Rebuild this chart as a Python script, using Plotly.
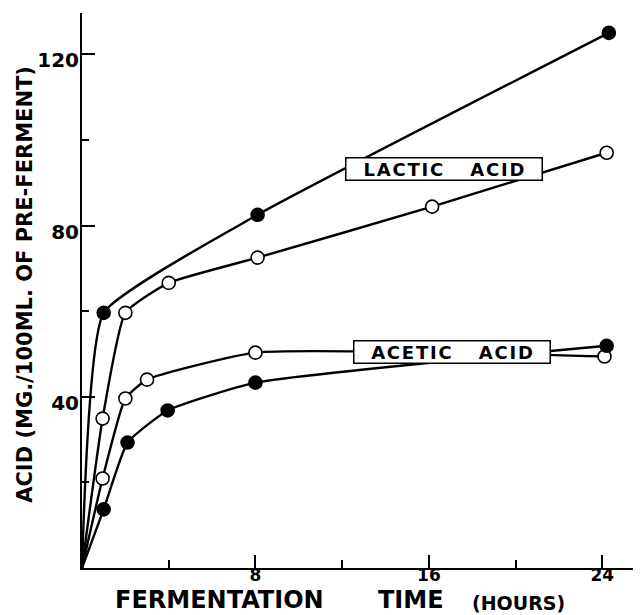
import plotly.graph_objects as go

# ---- data (hours, mg/100 ml of pre-ferment) ----
lactic_filled_t = [0, 1.0, 8.1, 24.3]
lactic_filled_v = [0, 59.6, 82.5, 125.0]

lactic_open_t = [0, 0.95, 2.0, 4.0, 8.1, 16.15, 24.2]
lactic_open_v = [0, 34.9, 59.6, 66.6, 72.5, 84.4, 97.0]

acetic_open_t = [0, 0.95, 2.0, 3.0, 8.0, 24.1]
acetic_open_v = [0, 20.9, 39.6, 44.0, 50.3, 49.4]

acetic_filled_t = [0, 1.0, 2.1, 3.95, 8.0, 24.2]
acetic_filled_v = [0, 13.7, 29.3, 36.8, 43.3, 51.9]

x_ticks = [8, 16, 24]
x_tick_labels = ["8", "16", "24"]
y_ticks = [40, 80, 120]
y_tick_labels = ["40", "80", "120"]

FONT = "DejaVu Sans"
OFF = 8                      # page body margin in the browser
SW, SH = 641, 615            # screen size
W, H = SW - OFF, SH - OFF    # figure size
# plot area in screen pixels
LEFT, RIGHT, TOP, BOTTOM = 81.5, 640, 13, 568.5
ML = LEFT - OFF
MR = SW - RIGHT
MT = TOP - OFF
MB = SH - BOTTOM
PX_PER_H = 21.7
PX_PER_V = 4.285
x_max = (RIGHT - LEFT) / PX_PER_H
y_max = (BOTTOM - TOP) / PX_PER_V

fig = go.Figure()

series = [
    (lactic_filled_t, lactic_filled_v, "black", 0.4),
    (lactic_open_t, lactic_open_v, "white", 0.45),
    (acetic_open_t, acetic_open_v, "white", 0.45),
    (acetic_filled_t, acetic_filled_v, "black", 0.45),
]

for t, v, fill, sm in series:
    fig.add_trace(go.Scatter(
        x=t, y=v, mode="lines",
        line=dict(color="black", width=2.4, shape="spline", smoothing=sm),
        hoverinfo="skip", showlegend=False, cliponaxis=False,
    ))
for t, v, fill, sm in series:
    fig.add_trace(go.Scatter(
        x=t[1:], y=v[1:], mode="markers",
        marker=dict(size=13, color=fill, line=dict(color="black", width=1.6)),
        showlegend=False, cliponaxis=False,
    ))

def spaced(word):
    return "\u200a".join(word)

def px(xs):
    return (xs - LEFT) / (RIGHT - LEFT)

def py(ys):
    return (BOTTOM - ys) / (BOTTOM - TOP)

box_style = dict(
    xref="paper", yref="paper", showarrow=False,
    xanchor="center", yanchor="middle",
    font=dict(family=FONT, size=18, color="black", weight="bold"),
    bgcolor="white", bordercolor="black", borderwidth=1.5, borderpad=1,
    width=193, height=19,
)
fig.add_annotation(x=px(443.5), y=py(169.5),
                   text=spaced("LACTIC") + "\u2003\u2002" + spaced("ACID"), **box_style)
fig.add_annotation(x=px(452), y=py(352),
                   text=spaced("ACETIC") + "\u2003\u2002" + spaced("ACID"), **box_style)

# axis titles
fig.add_annotation(
    xref="paper", yref="paper", x=px(24.5), y=py(285), textangle=-90,
    showarrow=False, xanchor="center", yanchor="middle",
    text="ACID (MG./100ML. OF PRE-FERMENT)",
    font=dict(family=FONT, size=21, color="black", weight="bold"),
)
title_font = dict(family=FONT, size=24, color="black", weight="bold")
fig.add_annotation(xref="paper", yref="paper", x=px(113), y=py(601),
                   showarrow=False, xanchor="left", yanchor="middle",
                   text="FERMENTATION", font=title_font)
fig.add_annotation(xref="paper", yref="paper", x=px(376), y=py(601),
                   showarrow=False, xanchor="left", yanchor="middle",
                   text="TIME", font=title_font)
fig.add_annotation(xref="paper", yref="paper", x=px(470), y=py(604),
                   showarrow=False, xanchor="left", yanchor="middle",
                   text="(HOURS)",
                   font=dict(family=FONT, size=19, color="black", weight="bold"))

fig.update_layout(
    width=W, height=H,
    margin=dict(l=ML, r=MR, t=MT, b=MB, pad=0, autoexpand=False),
    paper_bgcolor="white", plot_bgcolor="white",
    showlegend=False,
    xaxis=dict(
        range=[0, x_max], showgrid=False, zeroline=False,
        showline=True, linecolor="black", linewidth=2,
        tickmode="array", tickvals=x_ticks, ticktext=x_tick_labels,
        ticks="inside", ticklen=13, tickwidth=1.5, tickcolor="black",
        ticklabelstandoff=-9,
        minor=dict(dtick=4, tick0=0, ticks="inside", ticklen=8, tickwidth=1.5, tickcolor="black"),
        tickfont=dict(family=FONT, size=17, color="black", weight="bold"),
        fixedrange=True,
    ),
    yaxis=dict(
        range=[0, y_max], showgrid=False, zeroline=False,
        showline=True, linecolor="black", linewidth=2,
        tickmode="array", tickvals=y_ticks, ticktext=y_tick_labels,
        ticks="inside", ticklen=13, tickwidth=1.5, tickcolor="black",
        ticklabelstandoff=-3, ticklabelshift=6,
        minor=dict(dtick=20, tick0=0, ticks="inside", ticklen=7, tickwidth=1.5, tickcolor="black"),
        tickfont=dict(family=FONT, size=20, color="black", weight="bold"),
        fixedrange=True,
    ),
)

fig.write_html("out.html")
